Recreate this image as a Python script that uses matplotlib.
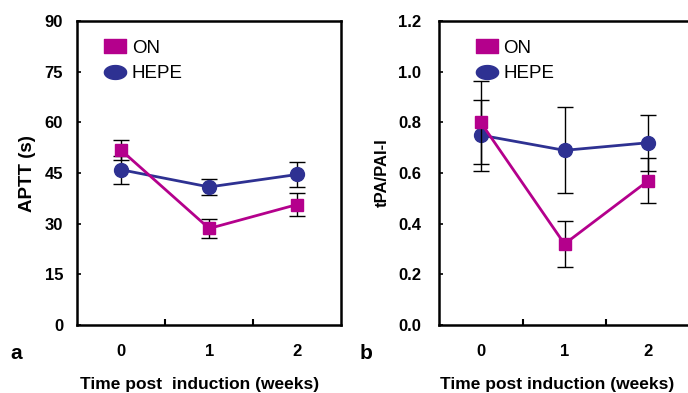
import matplotlib.pyplot as plt
import numpy as np
from matplotlib.lines import Line2D
from matplotlib.path import Path

plt.rcParams["font.family"] = ["Liberation Sans", "DejaVu Sans"]

weeks = [0, 1, 2]
week_labels = ["0", "1", "2"]

# panel a: APTT (s)
aptt_on = [51.8, 28.6, 35.7]
aptt_on_err = [3.0, 2.8, 3.5]
aptt_hepe = [46.0, 40.9, 44.6]
aptt_hepe_err = [4.2, 2.3, 3.7]

# panel b: tPA/PAI-I
tpa_on = [0.80, 0.32, 0.57]
tpa_on_err = [0.165, 0.09, 0.09]
tpa_hepe = [0.75, 0.69, 0.72]
tpa_hepe_err = [0.14, 0.17, 0.11]

ON_COLOR = "#B4008C"
HEPE_COLOR = "#2E3192"

# wide markers for the legend
t = np.linspace(0, 2 * np.pi, 60)
ellipse = Path(np.column_stack([1.6 * np.cos(t), np.sin(t)]))
rect = Path([(-1.6, -1), (1.6, -1), (1.6, 1), (-1.6, 1), (-1.6, -1)], closed=True)


def panel(ax, on, on_err, hepe, hepe_err, ylim, yticks, ytick_labels,
          ylabel, ylabel_size, ypad, xlabel, xlabel_x, letter, letter_x, legend_x):
    ax.errorbar(weeks, hepe, yerr=hepe_err, color=HEPE_COLOR, lw=2, marker="o", ms=10,
                ecolor="black", elinewidth=1, capsize=5.5, capthick=1, zorder=3)
    ax.errorbar(weeks, on, yerr=on_err, color=ON_COLOR, lw=2, marker="s", ms=9,
                ecolor="black", elinewidth=1, capsize=5.5, capthick=1, zorder=4)
    ax.set_xlim(-0.5, 2.5)
    ax.set_ylim(*ylim)
    ax.set_yticks(yticks)
    ax.set_yticklabels(ytick_labels, fontweight="bold")
    ax.set_xticks(weeks)
    ax.set_xticklabels(week_labels, fontweight="bold")
    ax.set_xticks([0.5, 1.5], minor=True)
    ax.tick_params(axis="x", which="major", length=0, pad=14, labelsize=12)
    ax.tick_params(axis="x", which="minor", direction="in", length=4, width=1.5)
    ax.tick_params(axis="y", direction="in", length=3, width=1.2, pad=ypad, labelsize=12)
    for s in ax.spines.values():
        s.set_linewidth(1.8)
    ax.set_ylabel(ylabel, fontsize=ylabel_size, fontweight="bold", labelpad=6)
    ax.set_xlabel(xlabel, fontsize=12.5, fontweight="bold")
    ax.xaxis.set_label_coords(xlabel_x, -0.172)
    handles = [
        Line2D([], [], ls="none", marker=rect, ms=16, color=ON_COLOR),
        Line2D([], [], ls="none", marker=ellipse, ms=16, color=HEPE_COLOR),
    ]
    ax.legend(handles, ["ON", "HEPE"], loc="upper left", bbox_to_anchor=(legend_x, 0.995),
              frameon=False, fontsize=13.5, handletextpad=0.2, labelspacing=0.45,
              handlelength=1.4)
    ax.text(letter_x, -0.095, letter, transform=ax.transAxes, fontsize=15,
            fontweight="bold", ha="center", va="center")


fig = plt.figure(figsize=(6.88, 3.93), dpi=100)
ax1 = fig.add_axes([0.112, 0.173, 0.384, 0.773])
ax2 = fig.add_axes([0.638, 0.173, 0.365, 0.773])

tpa_ticks = [0, 0.2, 0.4, 0.6, 0.8, 1.0, 1.2]
panel(ax1, aptt_on, aptt_on_err, aptt_hepe, aptt_hepe_err, (0, 90),
      [0, 15, 30, 45, 60, 75, 90], ["0", "15", "30", "45", "60", "75", "90"],
      "APTT (s)", 13.5, 10, "Time post  induction (weeks)", 0.462, "a", -0.23, 0.03)
panel(ax2, tpa_on, tpa_on_err, tpa_hepe, tpa_hepe_err, (0, 1.2),
      tpa_ticks, [f"{v:.1f}" for v in tpa_ticks],
      "tPA/PAI-I", 12, 13, "Time post induction (weeks)", 0.472, "b", -0.29, 0.07)

fig.savefig("out.png", dpi=100)
